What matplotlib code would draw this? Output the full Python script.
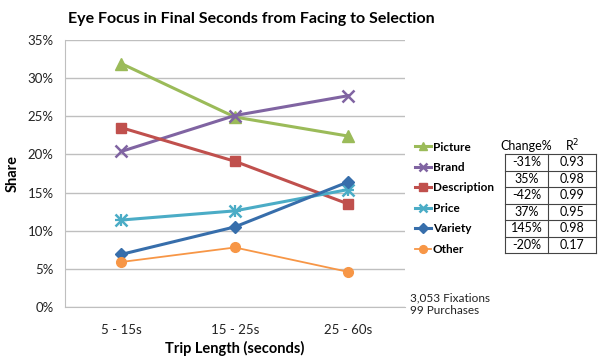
import matplotlib
matplotlib.use("Agg")
import matplotlib.pyplot as plt
from matplotlib.lines import Line2D

plt.rcParams['font.family'] = ['Lato', 'DejaVu Sans']

categories = ["5 - 15s", "15 - 25s", "25 - 60s"]
series_names = ["Picture", "Brand", "Description", "Price", "Variety", "Other"]
picture = [31.9, 24.9, 22.4]
brand = [20.4, 25.1, 27.7]
description = [23.5, 19.1, 13.5]
price = [11.4, 12.6, 15.4]
variety = [6.9, 10.5, 16.4]
other = [5.9, 7.8, 4.6]
change_pct = ["-31%", "35%", "-42%", "37%", "145%", "-20%"]
r_squared = ["0.93", "0.98", "0.99", "0.95", "0.98", "0.17"]
y_ticks = [0, 5, 10, 15, 20, 25, 30, 35]

values = [picture, brand, description, price, variety, other]
colors = ["#9BBB59", "#8064A2", "#C0504D", "#4BACC6", "#376EAB", "#F79646"]
markers = ["^", "x", "s", "x", "D", "o"]
msizes = [8, 8, 7, 8, 6, 7]
lws = [2.2, 2.2, 2.2, 2.2, 2.2, 1.3]

fig = plt.figure(figsize=(6.0, 3.62), dpi=100)
ax = fig.add_axes([0.108, 0.152, 0.567, 0.7375])

x = list(range(len(categories)))
handles = []
for name, vals, c, m, ms, lw in zip(series_names, values, colors, markers, msizes, lws):
    mew = 1.8 if m == "x" else 1.0
    ln, = ax.plot(x, vals, color=c, lw=lw, marker=m, markersize=ms,
                  markeredgewidth=mew, markerfacecolor=c, markeredgecolor=c, zorder=3)
    if name == "Price":
        ax.plot(x, vals, color=c, lw=0, marker="+", markersize=ms + 1,
                markeredgewidth=1.6, zorder=3)
    handles.append(ln)

ax.set_xlim(-0.5, len(categories) - 0.5)
ax.set_ylim(0, 35)
ax.set_yticks(y_ticks)
ax.set_yticklabels([f"{v}%" for v in y_ticks], fontsize=9.5, color="#222222")
ax.set_xticks(x)
ax.set_xticklabels(categories, fontsize=9.5, color="#222222")
ax.tick_params(axis='both', length=0, pad=8)
ax.tick_params(axis='x', pad=12)
ax.grid(axis='y', color="#BFBFBF", lw=1.0)
ax.set_axisbelow(True)
for s in ["top", "right"]:
    ax.spines[s].set_visible(False)
ax.spines["left"].set_color("#BFBFBF")
ax.spines["bottom"].set_color("#BFBFBF")
ax.set_ylabel("Share", fontsize=10.5, fontweight="bold", labelpad=6)
ax.set_xlabel("Trip Length (seconds)", fontsize=10.5, fontweight="bold", labelpad=4)

fig.text(0.113, 0.947, "Eye Focus in Final Seconds from Facing to Selection",
         fontsize=11.5, fontweight="bold", va="center", ha="left")

# legend
leg = fig.legend(handles, series_names, loc="upper left",
                 bbox_to_anchor=(0.683, 0.622), frameon=False,
                 fontsize=8.5, handlelength=1.4, handletextpad=0.15,
                 labelspacing=0.8, borderaxespad=0, markerscale=0.8)
for t in leg.get_texts():
    t.set_fontweight("bold")

# table
W, H = 600.0, 362.0
tx0, tx1, tx2 = 505, 548, 596
ty0 = 154
rh = 16.5
fs = 9
fig.text((tx0 + tx1) / 2 / W, 1 - 146 / H, "Change%", fontsize=fs, ha="center", va="center")
fig.text((tx1 + tx2) / 2 / W, 1 - 146 / H, "R$^2$", fontsize=fs, ha="center", va="center")
n = len(change_pct)
lc = "#444444"
for i in range(n + 1):
    yy = 1 - (ty0 + i * rh) / H
    fig.add_artist(Line2D([tx0 / W, tx2 / W], [yy, yy], color=lc, lw=0.8))
for xx in (tx0, tx1, tx2):
    fig.add_artist(Line2D([xx / W, xx / W], [1 - ty0 / H, 1 - (ty0 + n * rh) / H], color=lc, lw=0.8))
for i, (cp, r2) in enumerate(zip(change_pct, r_squared)):
    yc = 1 - (ty0 + (i + 0.5) * rh) / H
    fig.text((tx0 + tx1) / 2 / W, yc, cp, fontsize=fs, ha="center", va="center")
    fig.text((tx1 + tx2) / 2 / W, yc, r2, fontsize=fs, ha="center", va="center")

fig.text(410 / W, 1 - 298 / H, "3,053 Fixations", fontsize=8.5, ha="left", va="center", color="#222222")
fig.text(410 / W, 1 - 311 / H, "99 Purchases", fontsize=8.5, ha="left", va="center", color="#222222")

fig.savefig("out.png", dpi=100)
